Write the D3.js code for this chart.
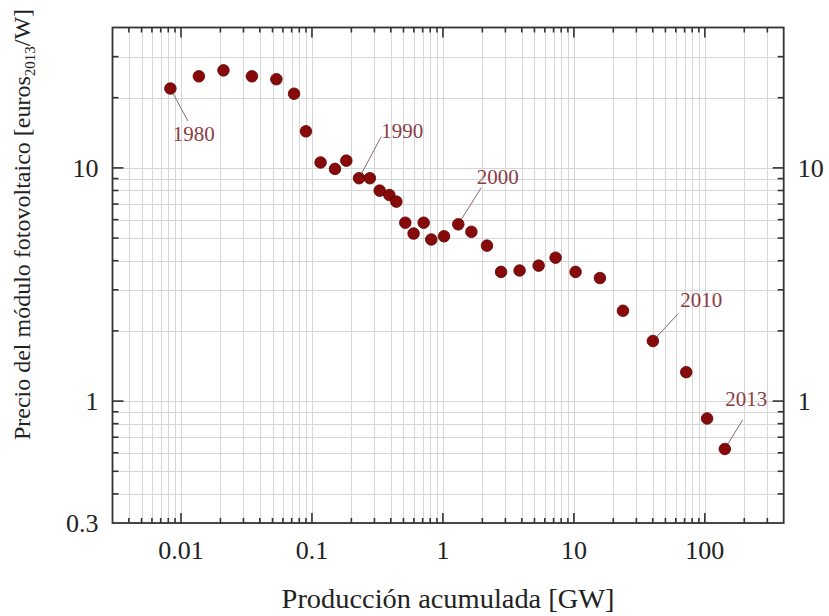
<!DOCTYPE html>
<html><head><meta charset="utf-8">
<script src="https://cdn.jsdelivr.net/npm/d3@7"></script>
<style>body{margin:0;background:#fff}svg{display:block}</style>
</head><body>
<svg id="c" width="829" height="616"></svg>
<script>
const years = d3.range(1980, 2014);
const production = [0.0083,0.0137,0.0211,0.0348,0.0535,0.073,0.090,0.1164,0.150,0.183,0.229,0.277,0.329,0.390,0.441,0.516,0.597,0.713,0.815,1.02,1.31,1.65,2.17,2.78,3.85,5.38,7.25,10.3,15.8,23.7,40.1,72.1,104,142];
const price = [21.9,24.7,26.2,24.7,24.0,20.8,14.35,10.55,9.90,10.74,9.03,9.03,7.99,7.65,7.17,5.82,5.23,5.82,4.93,5.09,5.73,5.32,4.64,3.58,3.63,3.81,4.12,3.58,3.37,2.44,1.81,1.33,0.842,0.623];
const xTickValues = [0.01, 0.1, 1, 10, 100];
const xTickLabels = ["0.01", "0.1", "1", "10", "100"];
const yTickValues = [0.3, 1, 10];
const yTickLabels = ["0.3", "1", "10"];
const yRightTickValues = [1, 10];
const labelYears = [1980, 1990, 2000, 2010, 2013];
const xTitle = "Producción acumulada [GW]";
const yTitleParts = ["Precio del módulo fotovoltaico [euros", "2013", "/W]"];

// annotation offsets (px) relative to the dot: leader end, text start
const annot = {
  1980: {lx: 17.6, ly: 32.6, tx: 2.3, ty: 52.3},
  1990: {lx: 22.2, ly: -41.7, tx: 22.2, ty: -40},
  2000: {lx: 22.9, ly: -36.5, tx: 18.5, ty: -39.8},
  2010: {lx: 25, ly: -27, tx: 27.4, ty: -34.3},
  2013: {lx: 18, ly: -29.3, tx: 0.4, ty: -42.6}
};

const svg = d3.select("#c");
const L = 112.5, R = 783.7, T = 27.5, B = 523;
const x = d3.scaleLog().domain([0.003, 400]).range([L, R]);
const y = d3.scaleLog().domain([0.3, 40]).range([B, T]);
const font = "'Liberation Serif','Times New Roman',serif";

const xMinor = [];
[0.001,0.01,0.1,1,10,100].forEach(d => { for (let k=1;k<10;k++){ const v=d*k; if (v>0.003*1.0001 && v<400*0.9999) xMinor.push(v);} });
const yMinor = [];
[0.1,1,10].forEach(d => { for (let k=1;k<10;k++){ const v=d*k; if (v>0.3*1.0001 && v<40*0.9999) yMinor.push(v);} });

const grid = svg.append("g").attr("stroke", "#d6d6d6").attr("stroke-width", 1);
grid.selectAll("line.vx").data(xMinor).join("line")
  .attr("x1", d => Math.round(x(d))+0.5).attr("x2", d => Math.round(x(d))+0.5).attr("y1", T).attr("y2", B);
grid.selectAll("line.hy").data(yMinor).join("line").attr("class","hy")
  .attr("y1", d => Math.round(y(d))+0.5).attr("y2", d => Math.round(y(d))+0.5).attr("x1", L).attr("x2", R);

const isMajor = v => Math.abs(Math.log10(v) - Math.round(Math.log10(v))) < 1e-6;
function tickGroup(scale, orient, vals, len) {
  const g = svg.append("g").attr("stroke", "#333").attr("stroke-width", 1.6);
  g.selectAll("line").data(vals).join("line").each(function(d){
    const s = d3.select(this);
    const p = scale(d);
    if (orient === "bottom") s.attr("x1", p).attr("x2", p).attr("y1", B).attr("y2", B - len(d));
    if (orient === "top") s.attr("x1", p).attr("x2", p).attr("y1", T).attr("y2", T + len(d));
    if (orient === "left") s.attr("y1", p).attr("y2", p).attr("x1", L).attr("x2", L + len(d));
    if (orient === "right") s.attr("y1", p).attr("y2", p).attr("x1", R).attr("x2", R - len(d));
  });
}
const lenX = d => isMajor(d) ? 10 : 5;
const lenY = d => (isMajor(d) ? 11 : 6);
tickGroup(x, "bottom", xMinor, lenX);
tickGroup(x, "top", xMinor, lenX);
tickGroup(y, "left", yMinor, lenY);
tickGroup(y, "right", yMinor, lenY);

svg.append("rect").attr("x", L).attr("y", T).attr("width", R-L).attr("height", B-T)
  .attr("fill", "none").attr("stroke", "#333").attr("stroke-width", 1.8);

svg.append("g").selectAll("text").data(xTickValues).join("text")
  .attr("x", d => x(d)).attr("y", 559).attr("text-anchor", "middle")
  .attr("font-family", font).attr("font-size", 26).attr("fill", "#222")
  .text((d,i) => xTickLabels[i]);
svg.append("g").selectAll("text").data(yTickValues).join("text")
  .attr("x", L - 14).attr("y", d => y(d) + 9).attr("text-anchor", "end")
  .attr("font-family", font).attr("font-size", 26).attr("fill", "#222")
  .text((d,i) => yTickLabels[i]);
svg.append("g").selectAll("text").data(yRightTickValues).join("text")
  .attr("x", R + 14).attr("y", d => y(d) + 9).attr("text-anchor", "start")
  .attr("font-family", font).attr("font-size", 26).attr("fill", "#222")
  .text(d => yTickLabels[yTickValues.indexOf(d)]);

svg.append("text").attr("x", (L+R)/2).attr("y", 608).attr("text-anchor", "middle")
  .attr("font-family", font).attr("font-size", 27).attr("fill", "#222")
  .attr("textLength", 333).attr("lengthAdjust", "spacingAndGlyphs").text(xTitle);
const yt = svg.append("text").attr("transform", "translate(30,224.5) rotate(-90)")
  .attr("text-anchor", "middle").attr("font-family", font).attr("font-size", 24).attr("fill", "#222");
yt.append("tspan").text(yTitleParts[0]);
yt.append("tspan").attr("font-size", 15).attr("dy", 5).text(yTitleParts[1]);
yt.append("tspan").attr("dy", -5).text(yTitleParts[2]);

const data = years.map((yr, i) => ({yr, px: production[i], pr: price[i]}));
const ann = svg.append("g");
data.filter(d => labelYears.includes(d.yr)).forEach(d => {
  const cx = x(d.px), cy = y(d.pr), a = annot[d.yr];
  ann.append("line").attr("x1", cx).attr("y1", cy).attr("x2", cx + a.lx).attr("y2", cy + a.ly)
    .attr("stroke", "#8a6a6a").attr("stroke-width", 1);
  ann.append("text").attr("x", cx + a.tx).attr("y", cy + a.ty)
    .attr("font-family", font).attr("font-size", 21).attr("fill", "#8c3c44").text(d.yr);
});

svg.append("g").selectAll("circle").data(data).join("circle")
  .attr("cx", d => x(d.px)).attr("cy", d => y(d.pr)).attr("r", 5.8)
  .attr("fill", "#860a0a").attr("stroke", "#5e0000").attr("stroke-width", 0.8);
</script>
</body></html>
